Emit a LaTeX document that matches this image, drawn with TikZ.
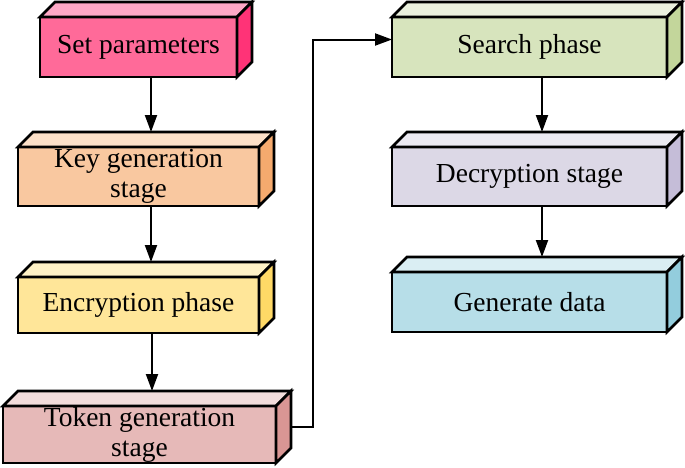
\documentclass[tikz,border=0pt]{standalone}
\usepackage{fontspec}
\setmainfont{Liberation Serif}
\usetikzlibrary{arrows.meta,calc}
\definecolor{setF}{HTML}{FF6A99}
\definecolor{setT}{HTML}{FFA8C6}
\definecolor{setS}{HTML}{FF3377}
\definecolor{keyF}{HTML}{F9C8A0}
\definecolor{keyT}{HTML}{FCE0C8}
\definecolor{keyS}{HTML}{F5AA6E}
\definecolor{encF}{HTML}{FFE699}
\definecolor{encT}{HTML}{FFF2C6}
\definecolor{encS}{HTML}{FFD966}
\definecolor{tokF}{HTML}{E6B9B8}
\definecolor{tokT}{HTML}{F2DCDB}
\definecolor{tokS}{HTML}{D99694}
\definecolor{seaF}{HTML}{D7E4BD}
\definecolor{seaT}{HTML}{EBF1DE}
\definecolor{seaS}{HTML}{C3D69B}
\definecolor{decF}{HTML}{DCD8E6}
\definecolor{decT}{HTML}{ECEAF2}
\definecolor{decS}{HTML}{C5BDD8}
\definecolor{genF}{HTML}{B7DEE8}
\definecolor{genT}{HTML}{DAEEF3}
\definecolor{genS}{HTML}{93CDDD}
\newcommand\cubebox[9]{%
  \node[cubefront, fill=#6, minimum width=#4pt, minimum height=#5pt] (#1) at (#2,#3) {#9};
  \filldraw[fill=#7, draw=black, line width=2.6pt] (#1.north west) -- ++(15,-15) -- ++(#4,0) -- (#1.north east) -- cycle;
  \filldraw[fill=#8, draw=black, line width=2.6pt] (#1.north east) -- ++(15,-15) -- ++(0,#5) -- (#1.south east) -- cycle;
  \coordinate (#1-t) at ($(#1.north)+(12.5,-15)$);
}
\begin{document}
\begin{tikzpicture}[x=1pt,y=-1pt,
  cubefront/.style={draw=black, line width=2.6pt, inner sep=0pt, outer sep=0pt, anchor=north west,
    font=\fontsize{27.5}{30}\selectfont, align=center},
  arr/.style={line width=2pt, -{Triangle[length=17pt,width=12pt]}}]
\useasboundingbox (0,0) rectangle (685,467);
\cubebox{set}{40}{17}{197}{60}{setF}{setT}{setS}{Set parameters}
\cubebox{key}{18}{147}{241}{59}{keyF}{keyT}{keyS}{Key generation\\stage}
\cubebox{enc}{18}{277}{241}{56}{encF}{encT}{encS}{Encryption phase}
\cubebox{tok}{3}{406}{273}{57}{tokF}{tokT}{tokS}{Token generation\\stage}
\cubebox{sea}{392}{17}{275}{60}{seaF}{seaT}{seaS}{Search phase}
\cubebox{dec}{392}{147}{275}{59}{decF}{decT}{decS}{Decryption stage}
\cubebox{gen}{392}{272}{275}{60}{genF}{genT}{genS}{Generate data}
\draw[arr] (set.south -| key-t) -- (key-t);
\draw[arr] (key.south -| enc-t) -- (enc-t);
\draw[arr] (enc.south -| tok-t) -- (tok-t);
\draw[arr] (sea.south -| dec-t) -- (dec-t);
\draw[arr] (dec.south -| gen-t) -- (gen-t);
\coordinate (tokr) at ($(tok.east)+(15,-7.5)$);
\coordinate (seal) at ($(sea.west)+(0,-7.5)$);
\coordinate (bend) at (313,0);
\draw[arr] (tokr) -- (tokr -| bend) |- (seal);
\end{tikzpicture}
\end{document}
